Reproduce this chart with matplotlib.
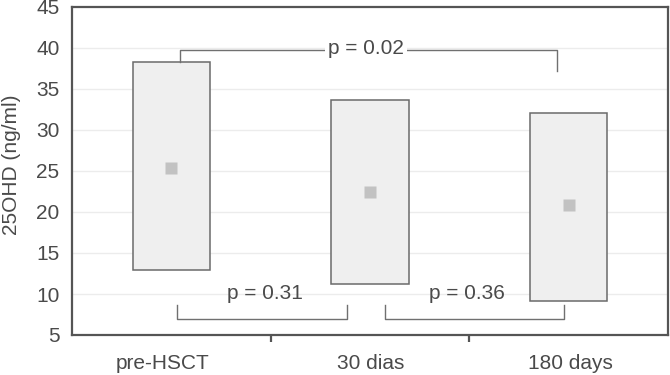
import matplotlib
matplotlib.use("Agg")
import matplotlib.pyplot as plt
from matplotlib.patches import Rectangle

plt.rcParams['font.family'] = ['Liberation Sans', 'DejaVu Sans']

categories = ["pre-HSCT", "30 dias", "180 days"]
box_low = [12.9, 11.2, 9.1]
box_high = [38.3, 33.7, 32.1]
means = [25.4, 22.4, 20.9]

# significance annotations
p_labels = ["p = 0.02", "p = 0.31", "p = 0.36"]

TXT = "#4a4a4a"
EDGE = "#6a6a6a"

fig = plt.figure(figsize=(6.7, 3.75), dpi=100)
ax = fig.add_axes([72/670, 40/375, 596/670, 328/375])
ax.set_xlim(0, 3)
ax.set_ylim(5, 45)

ax.set_yticks(range(5, 46, 5))
for y in range(10, 45, 5):
    ax.axhline(y, color="#ececec", lw=1.0, zorder=0)

centers = [0.5, 1.5, 2.5]
label_pos = [0.455, 1.505, 2.51]
w = 0.39
for c, lo, hi, m in zip(centers, box_low, box_high, means):
    ax.add_patch(Rectangle((c - w/2, lo), w, hi - lo, facecolor="#efefef",
                           edgecolor=EDGE, lw=1.1, zorder=2))
    ax.plot([c], [m], marker="s", ms=8, color="#c2c2c2", mec="none", zorder=3)

lc = "#707070"
lw = 1.0
# top bracket p=0.02
ax.plot([0.544, 0.544, 2.441, 2.441], [box_high[0], 39.7, 39.7, 37.2],
        color=lc, lw=lw, zorder=2)
ax.text(1.48, 39.9, p_labels[0], ha="center", va="center", fontsize=15,
        color=TXT, zorder=4,
        bbox=dict(facecolor="white", edgecolor="none", pad=2))
# bottom brackets
ax.plot([0.528, 0.528, 1.384, 1.384], [8.6, 7.0, 7.0, 8.6], color=lc, lw=lw, zorder=2)
ax.text(0.971, 10.1, p_labels[1], ha="center", va="center", fontsize=15, color=TXT, zorder=4)
ax.plot([1.575, 1.575, 2.476, 2.476], [8.6, 7.0, 7.0, 8.6], color=lc, lw=lw, zorder=2)
ax.text(1.988, 10.1, p_labels[2], ha="center", va="center", fontsize=15, color=TXT, zorder=4)

for s in ax.spines.values():
    s.set_color("#555555")
    s.set_linewidth(1.6)

ax.tick_params(axis="y", length=0, pad=9, labelsize=15, labelcolor=TXT)
ax.set_xticks([1, 2])
ax.set_xticklabels([])
ax.tick_params(axis="x", which="major", length=5, width=1.6, color="#555555", direction="out")
ax.set_xticks(label_pos, minor=True)
ax.set_xticklabels(categories, minor=True)
ax.tick_params(axis="x", which="minor", length=0, pad=14, labelsize=15, labelcolor=TXT)

fig.text(12/670, 1 - 165/375, "25OHD (ng/ml)", rotation=90, ha="center", va="center",
         fontsize=15, color=TXT)

fig.savefig("out.png", dpi=100)
